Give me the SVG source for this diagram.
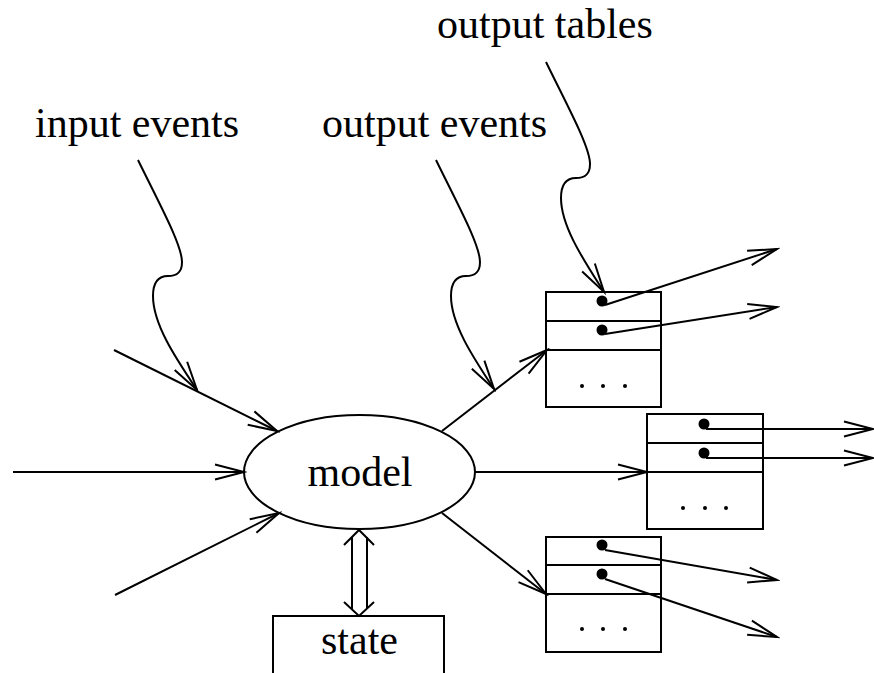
<svg xmlns="http://www.w3.org/2000/svg" width="874" height="673" viewBox="0 0 874 673">
  <style>
    .ln { fill: none; stroke: #000; stroke-width: 2; }
    .box { fill: #fff; stroke: #000; stroke-width: 2; }
    .lbl { font-family: "Liberation Serif", "Times New Roman", serif; font-size: 42px; fill: #000; }
    .dot { fill: #000; }
  </style>
  <defs>
    <marker id="arr" markerUnits="userSpaceOnUse" markerWidth="34" markerHeight="22" viewBox="-31 -11 34 22" refX="0" refY="0" orient="auto">
      <path d="M-29,-7.5 L0,0 L-29,7.5" fill="none" stroke="#000" stroke-width="2"/>
    </marker>
  </defs>

  <!-- labels -->
  <g id="labels">
    <text class="lbl" x="35" y="137">input events</text>
    <text class="lbl" x="322" y="137">output events</text>
    <text class="lbl" x="437" y="38">output tables</text>
  </g>

  <!-- model -->
  <g id="model">
    <ellipse class="box" cx="359.5" cy="472" rx="115.5" ry="57"/>
    <text class="lbl" x="360" y="486" text-anchor="middle">model</text>
  </g>

  <!-- state -->
  <g id="state">
    <path class="box" d="M273,674 L273,616 L444,616 L444,674"/>
    <text class="lbl" x="359.5" y="654" text-anchor="middle">state</text>
  </g>

  <!-- output table 1 -->
  <g id="table1">
    <rect class="box" x="546" y="292" width="115" height="115"/>
    <line class="ln" x1="546" y1="321" x2="661" y2="321"/>
    <line class="ln" x1="546" y1="350" x2="661" y2="350"/>
    <circle class="dot" cx="602" cy="301" r="5.5"/>
    <circle class="dot" cx="602" cy="330" r="5.5"/>
    <circle class="dot" cx="582" cy="386" r="2"/>
    <circle class="dot" cx="603" cy="386" r="2"/>
    <circle class="dot" cx="625" cy="386" r="2"/>
  </g>

  <!-- output table 2 -->
  <g id="table2">
    <rect class="box" x="647" y="414" width="116" height="115"/>
    <line class="ln" x1="647" y1="443" x2="763" y2="443"/>
    <line class="ln" x1="647" y1="472" x2="763" y2="472"/>
    <circle class="dot" cx="704" cy="424" r="5.5"/>
    <circle class="dot" cx="704" cy="453" r="5.5"/>
    <circle class="dot" cx="683" cy="508" r="2"/>
    <circle class="dot" cx="705" cy="508" r="2"/>
    <circle class="dot" cx="726" cy="508" r="2"/>
  </g>

  <!-- output table 3 -->
  <g id="table3">
    <rect class="box" x="546" y="537" width="115" height="115"/>
    <line class="ln" x1="546" y1="565" x2="661" y2="565"/>
    <line class="ln" x1="546" y1="594" x2="661" y2="594"/>
    <circle class="dot" cx="602" cy="545" r="5.5"/>
    <circle class="dot" cx="602" cy="574" r="5.5"/>
    <circle class="dot" cx="582" cy="629" r="2"/>
    <circle class="dot" cx="603" cy="629" r="2"/>
    <circle class="dot" cx="625" cy="629" r="2"/>
  </g>

  <!-- connectors -->
  <g id="connectors">
    <!-- inputs into the model -->
    <line class="ln" x1="114" y1="350" x2="277" y2="431" marker-end="url(#arr)"/>
    <line class="ln" x1="13" y1="472" x2="244" y2="472" marker-end="url(#arr)"/>
    <line class="ln" x1="115" y1="595" x2="279" y2="513" marker-end="url(#arr)"/>
    <!-- outputs from the model to the tables -->
    <line class="ln" x1="442" y1="431" x2="547" y2="350" marker-end="url(#arr)"/>
    <line class="ln" x1="475" y1="472" x2="647" y2="472" marker-end="url(#arr)"/>
    <line class="ln" x1="442" y1="513" x2="546" y2="594" marker-end="url(#arr)"/>
    <!-- wavy label pointers -->
    <path class="ln" d="M138,160 C160,205 182,245 182,262 C182,274 175,276 168,276 C158,276 153,282 153,296 C153,325 177,360 197,390" marker-end="url(#arr)"/>
    <path class="ln" d="M436,160 C458,205 480,245 480,262 C480,274 473,276 466,276 C456,276 451,282 451,296 C451,325 475,360 494,389" marker-end="url(#arr)"/>
    <path class="ln" d="M546,62 C568,107 590,147 590,164 C590,176 583,178 576,178 C566,178 561,184 561,198 C561,227 585,262 604,292" marker-end="url(#arr)"/>
    <!-- table entry pointers -->
    <line class="ln" x1="605" y1="305" x2="777" y2="249" marker-end="url(#arr)"/>
    <line class="ln" x1="605" y1="334" x2="777" y2="307" marker-end="url(#arr)"/>
    <line class="ln" x1="706" y1="429" x2="873" y2="429" marker-end="url(#arr)"/>
    <line class="ln" x1="706" y1="458" x2="873" y2="458" marker-end="url(#arr)"/>
    <line class="ln" x1="605" y1="550" x2="777" y2="580" marker-end="url(#arr)"/>
    <line class="ln" x1="605" y1="579" x2="777" y2="637" marker-end="url(#arr)"/>
    <!-- model/state hollow double arrow -->
    <g id="state-link">
      <line class="ln" x1="352" y1="537" x2="352" y2="609"/>
      <line class="ln" x1="367" y1="537" x2="367" y2="609"/>
      <path class="ln" d="M344,545 L359,530 L374,545"/>
      <path class="ln" d="M344,602 L359,616 L374,602"/>
    </g>
  </g>
</svg>
